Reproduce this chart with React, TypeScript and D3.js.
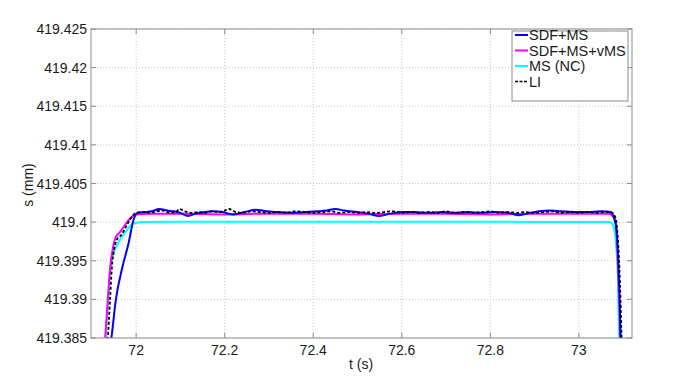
import React from "react";
import * as d3 from "d3";

const xTicks = [72, 72.2, 72.4, 72.6, 72.8, 73];
const yTicks = [419.385, 419.39, 419.395, 419.4, 419.405, 419.41, 419.415, 419.42, 419.425];
const yTickLabels = ["419.385", "419.39", "419.395", "419.4", "419.405", "419.41", "419.415", "419.42", "419.425"];

const blueT = [71.94, 71.944, 71.954, 71.969, 71.983, 71.994, 72.003, 72.02, 72.035, 72.052, 72.07, 72.085, 72.1, 72.117, 72.135, 72.155, 72.175, 72.195, 72.22, 72.245, 72.27, 72.295, 72.32, 72.35, 72.38, 72.41, 72.43, 72.45, 72.47, 72.5, 72.525, 72.549, 72.575, 72.6, 72.63, 72.66, 72.69, 72.72, 72.75, 72.78, 72.81, 72.84, 72.864, 72.89, 72.91, 72.936, 72.96, 72.99, 73.02, 73.05, 73.072, 73.08, 73.085, 73.089, 73.092, 73.095];
const blueV = [419.3835, 419.385, 419.3899, 419.3942, 419.3973, 419.4003, 419.4012, 419.4013, 419.4014, 419.4017, 419.4015, 419.4014, 419.4012, 419.4008, 419.4011, 419.4013, 419.4014, 419.4013, 419.401, 419.4013, 419.4016, 419.4014, 419.4013, 419.4012, 419.4013, 419.4014, 419.4015, 419.4017, 419.4015, 419.4013, 419.4011, 419.4008, 419.4011, 419.4013, 419.4013, 419.4012, 419.4013, 419.4012, 419.4013, 419.4012, 419.4013, 419.4012, 419.4009, 419.4012, 419.4014, 419.4015, 419.4014, 419.4013, 419.4013, 419.4014, 419.4013, 419.4004, 419.399, 419.395, 419.39, 419.3835];

const magT = [71.928, 71.93, 71.936, 71.941, 71.947, 71.954, 71.962, 71.972, 71.985, 71.999, 72.03, 72.1, 72.2, 72.3, 72.4, 72.5, 72.6, 72.7, 72.8, 72.9, 73.0, 73.068, 73.075, 73.083, 73.088, 73.091, 73.094];
const magV = [419.3835, 419.385, 419.39, 419.394, 419.3965, 419.3981, 419.3986, 419.3994, 419.4004, 419.401, 419.4011, 419.4011, 419.401, 419.4011, 419.4011, 419.401, 419.4011, 419.4011, 419.401, 419.4011, 419.4011, 419.4011, 419.4009, 419.4, 419.395, 419.39, 419.3835];

const cyanT = [71.929, 71.931, 71.937, 71.942, 71.948, 71.958, 71.968, 71.978, 71.988, 71.998, 72.02, 72.1, 72.3, 72.5, 72.7, 72.9, 73.065, 73.07, 73.078, 73.084, 73.088, 73.091, 73.092];
const cyanV = [419.3835, 419.385, 419.39, 419.394, 419.3958, 419.3972, 419.3981, 419.3989, 419.3996, 419.3999, 419.40003, 419.40005, 419.40005, 419.40004, 419.40004, 419.40003, 419.40003, 419.40002, 419.3995, 419.397, 419.393, 419.385, 419.3835];

const liT = [71.933, 71.936, 71.941, 71.945, 71.951, 71.958, 71.966, 71.976, 71.988, 72.0, 72.015, 72.03, 72.045, 72.06, 72.075, 72.09, 72.098, 72.11, 72.125, 72.14, 72.155, 72.17, 72.185, 72.2, 72.21, 72.225, 72.24, 72.26, 72.28, 72.3, 72.32, 72.34, 72.36, 72.38, 72.4, 72.42, 72.44, 72.46, 72.48, 72.5, 72.52, 72.54, 72.56, 72.58, 72.6, 72.62, 72.64, 72.66, 72.68, 72.7, 72.72, 72.74, 72.76, 72.78, 72.8, 72.82, 72.84, 72.86, 72.88, 72.9, 72.92, 72.94, 72.96, 72.98, 73.0, 73.02, 73.04, 73.06, 73.075, 73.083, 73.089, 73.094, 73.097];
const liV = [419.3835, 419.385, 419.39, 419.394, 419.3967, 419.3979, 419.3983, 419.3993, 419.4005, 419.4012, 419.4013, 419.4012, 419.4014, 419.4015, 419.4012, 419.4013, 419.4017, 419.4014, 419.4012, 419.4013, 419.4012, 419.4014, 419.4013, 419.4015, 419.4017, 419.4013, 419.4012, 419.4014, 419.4013, 419.4012, 419.4013, 419.4012, 419.4014, 419.4013, 419.4012, 419.4013, 419.4014, 419.4012, 419.4013, 419.4012, 419.4013, 419.4012, 419.4013, 419.4014, 419.4012, 419.4013, 419.4012, 419.4013, 419.4012, 419.4014, 419.4012, 419.4013, 419.4012, 419.4013, 419.4014, 419.4012, 419.4013, 419.4012, 419.4013, 419.4012, 419.4013, 419.4014, 419.4012, 419.4013, 419.4012, 419.4013, 419.4012, 419.4013, 419.4012, 419.4005, 419.397, 419.39, 419.3835];

const seriesNames = ["SDF+MS", "SDF+MS+vMS", "MS (NC)", "LI"];

const W = 698, H = 382;
const L = 91, R = 632, T = 29, B = 338;

export default function App() {
  const x = d3.scaleLinear().domain([71.898, 73.12]).range([L, R]);
  const y = d3.scaleLinear().domain([419.385, 419.425]).range([B, T]);
  const mk = (ts: number[], vs: number[]) =>
    d3.line<number>().x((_, i) => x(ts[i])).y((v) => y(v)).curve(d3.curveMonotoneX)(vs) || "";

  const series = [
    { name: seriesNames[0], d: mk(blueT, blueV), color: "#0000ff", dash: undefined as string | undefined },
    { name: seriesNames[1], d: mk(magT, magV), color: "#ff00ff", dash: undefined },
    { name: seriesNames[2], d: mk(cyanT, cyanV), color: "#00ffff", dash: undefined },
    { name: seriesNames[3], d: mk(liT, liV), color: "#000000", dash: "3,2" },
  ];
  const drawOrder = [2, 1, 0, 3];
  const font = "'Liberation Sans', Arial, sans-serif";
  const gridColor = "#c8c8c8";
  const frame = "#8c8c8c";

  return (
    <svg width={W} height={H} style={{ position: "absolute", left: 0, top: 0, background: "#fff" }} fontFamily={font}>
      <rect x={0} y={0} width={W} height={H} fill="#fff" />
      <defs>
        <clipPath id="plot">
          <rect x={L} y={T} width={R - L} height={B - T} />
        </clipPath>
      </defs>
      {xTicks.map((t) => (
        <line key={"gx" + t} x1={x(t)} x2={x(t)} y1={T} y2={B} stroke={gridColor} strokeWidth={1} strokeDasharray="1,2" />
      ))}
      {yTicks.map((t) => (
        <line key={"gy" + t} x1={L} x2={R} y1={y(t)} y2={y(t)} stroke={gridColor} strokeWidth={1} strokeDasharray="1,2" />
      ))}
      <g clipPath="url(#plot)">
        {drawOrder.map((i) => (
          <path key={series[i].name} d={series[i].d} fill="none" stroke={series[i].color} strokeWidth={i === 3 ? 1.8 : 2} strokeDasharray={series[i].dash} />
        ))}
      </g>
      <rect x={L} y={T} width={R - L} height={B - T} fill="none" stroke={frame} strokeWidth={1} />
      {xTicks.map((t) => (
        <g key={"xt" + t}>
          <line x1={x(t)} x2={x(t)} y1={B} y2={B - 5} stroke={frame} />
          <line x1={x(t)} x2={x(t)} y1={T} y2={T + 5} stroke={frame} />
          <text x={x(t)} y={355} fontSize={14} textAnchor="middle" fill="#1a1a1a">{t}</text>
        </g>
      ))}
      {yTicks.map((t, i) => (
        <g key={"yt" + t}>
          <line x1={L} x2={L + 5} y1={y(t)} y2={y(t)} stroke={frame} />
          <line x1={R} x2={R - 5} y1={y(t)} y2={y(t)} stroke={frame} />
          <text x={87} y={y(t) + 5} fontSize={14} textAnchor="end" fill="#1a1a1a">{yTickLabels[i]}</text>
        </g>
      ))}
      <text x={361} y={369} fontSize={14} textAnchor="middle" fill="#1a1a1a">t (s)</text>
      <text transform={`translate(33,185) rotate(-90)`} fontSize={14} textAnchor="middle" fill="#1a1a1a">s (mm)</text>
      <g>
        <rect x={512} y={31} width={116} height={70} fill="#fff" stroke={frame} strokeWidth={1} />
        {series.map((s, i) => (
          <g key={"lg" + i}>
            <line x1={515} x2={528} y1={35 + i * 15.5} y2={35 + i * 15.5} stroke={s.color} strokeWidth={i === 3 ? 1.5 : 2} strokeDasharray={i === 3 ? "3,1.5" : undefined} />
            <text x={529} y={35 + i * 15.5 + 5} fontSize={14.5} fill="#1a1a1a">{s.name}</text>
          </g>
        ))}
      </g>
    </svg>
  );
}
